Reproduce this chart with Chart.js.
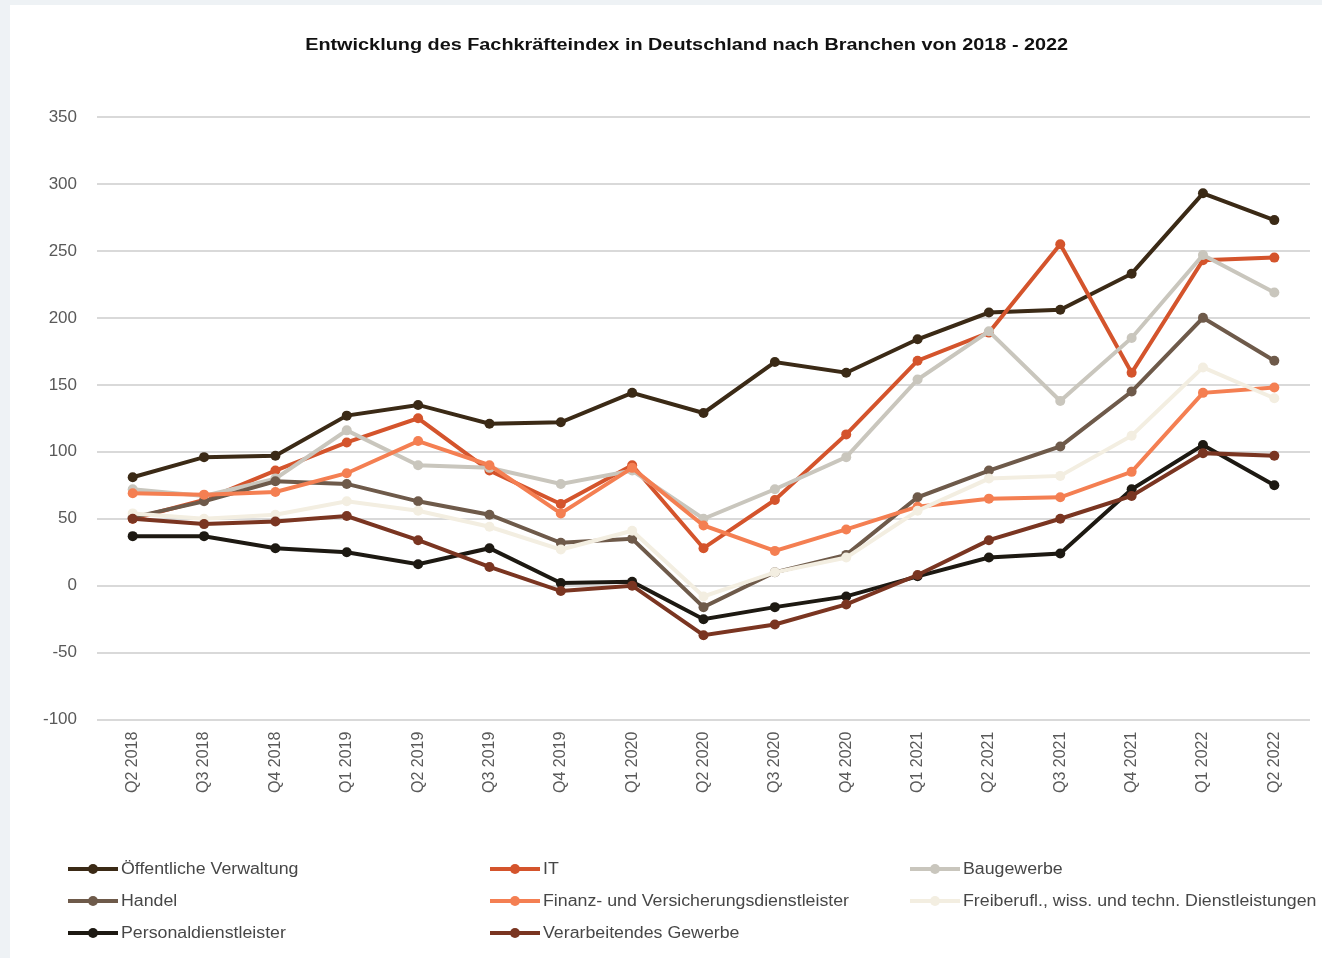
<!DOCTYPE html>
<html lang="de">
<head>
<meta charset="utf-8">
<title>Fachkräfteindex nach Branchen</title>
<script src="https://cdn.jsdelivr.net/npm/chart.js@4.4.1/dist/chart.umd.min.js"></script>
<style>
  html, body { margin: 0; padding: 0; background: #eef2f5; }
  body { width: 1322px; height: 958px; position: relative; overflow: hidden; }
  #card { position: absolute; left: 10px; top: 5px; width: 1312px; height: 953px; background: #ffffff; }
  #chart { position: absolute; left: 0; top: 0; width: 1312px; height: 953px; }
  #title { position: absolute; left: 0; top: 30px; width: 1353px; height: 20px; text-align: center;
           font-family: "Liberation Sans", Arial, sans-serif; font-size: 16px; font-weight: bold;
           color: #111111; line-height: 20px; white-space: nowrap; }
  #title span { display: inline-block; transform: scaleX(1.24); transform-origin: center; }
  #legend { position: absolute; left: 0; top: 0; width: 1312px; height: 953px; pointer-events: none;
            font-family: "Liberation Sans", Arial, sans-serif; font-size: 16px; color: #474747; }
  .item { position: absolute; height: 20px; display: flex; align-items: center; white-space: nowrap; }
  .item span { display: inline-block; transform: scaleX(1.11); transform-origin: left center; }
  .swatch { position: relative; width: 50px; height: 20px; margin-right: 3px; }
  .swatch .ln { position: absolute; left: 0; right: 0; top: 8px; height: 4px; }
  .swatch .pt { position: absolute; left: 20px; top: 5px; width: 10px; height: 10px; border-radius: 50%; }
</style>
</head>
<body>
<div id="card">
  <canvas id="chart" width="1312" height="953"></canvas>
  <div id="title"><span>Entwicklung des Fachkräfteindex in Deutschland nach Branchen von 2018 - 2022</span></div>
  <div id="legend"></div>
</div>
<script>
// Quarters on the category axis
const quarters = ["Q2 2018", "Q3 2018", "Q4 2018", "Q1 2019", "Q2 2019", "Q3 2019", "Q4 2019",
                  "Q1 2020", "Q2 2020", "Q3 2020", "Q4 2020", "Q1 2021", "Q2 2021", "Q3 2021",
                  "Q4 2021", "Q1 2022", "Q2 2022"];

// Fachkräfteindex per sector
const oeffentlicheVerwaltung = [81, 96, 97, 127, 135, 121, 122, 144, 129, 167, 159, 184, 204, 206, 233, 293, 273];
const it                     = [50, 64, 86, 107, 125, 86, 61, 90, 28, 64, 113, 168, 189, 255, 159, 243, 245];
const baugewerbe             = [72, 67, 80, 116, 90, 88, 76, 86, 50, 72, 96, 154, 190, 138, 185, 247, 219];
const handel                 = [51, 63, 78, 76, 63, 53, 32, 35, -16, 10, 23, 66, 86, 104, 145, 200, 168];
const finanz                 = [69, 68, 70, 84, 108, 90, 54, 88, 45, 26, 42, 59, 65, 66, 85, 144, 148];
const freiberufl             = [54, 50, 53, 63, 56, 44, 27, 41, -8, 10, 21, 56, 80, 82, 112, 163, 140];
const personaldienstleister  = [37, 37, 28, 25, 16, 28, 2, 3, -25, -16, -8, 7, 21, 24, 72, 105, 75];
const verarbeitendesGewerbe  = [50, 46, 48, 52, 34, 14, -4, 0, -37, -29, -14, 8, 34, 50, 67, 99, 97];

// Y axis range and tick step
const yMin = -100;
const yMax = 350;
const yStep = 50;

const seriesNames = ["Öffentliche Verwaltung", "IT", "Baugewerbe", "Handel",
                     "Finanz- und Versicherungsdienstleister",
                     "Freiberufl., wiss. und techn. Dienstleistungen",
                     "Personaldienstleister", "Verarbeitendes Gewerbe"];
const seriesValues = [oeffentlicheVerwaltung, it, baugewerbe, handel, finanz, freiberufl,
                      personaldienstleister, verarbeitendesGewerbe];
const seriesColors = ["#3b2a16", "#d4542c", "#c9c6bd", "#6e5a4a", "#f47f52", "#f3eee1", "#1d1912", "#7a3521"];

const FONT = '"Liberation Sans", Arial, sans-serif';

const datasets = seriesNames.map((name, i) => ({
  label: name,
  data: seriesValues[i],
  borderColor: seriesColors[i],
  backgroundColor: seriesColors[i],
  borderWidth: 4,
  pointRadius: 5,
  pointHoverRadius: 5,
  pointBorderWidth: 0,
  pointBackgroundColor: seriesColors[i],
  tension: 0,
  // later series are painted over earlier ones
  order: seriesNames.length - i
}));

const chart = new Chart(document.getElementById("chart"), {
  type: "line",
  data: { labels: quarters, datasets },
  options: {
    responsive: false,
    animation: false,
    layout: { padding: { left: 13, right: 12, top: 112, bottom: 161 } },
    plugins: {
      legend: { display: false },
      tooltip: { enabled: false },
      title: { display: false }
    },
    scales: {
      x: {
        offset: true,
        grid: { display: false },
        border: { display: false },
        ticks: {
          color: "#595959",
          font: { family: FONT, size: 16 },
          minRotation: 90,
          maxRotation: 90,
          padding: 4,
          autoSkip: false
        }
      },
      y: {
        min: yMin,
        max: yMax,
        grid: { color: "#d9d9d9", lineWidth: 2, drawTicks: false },
        border: { display: false },
        ticks: {
          stepSize: yStep,
          color: "#595959",
          font: { family: FONT, size: 17 },
          padding: 20
        }
      }
    }
  }
});

// Legend in three columns below the plot
const legendEl = document.getElementById("legend");
const colX = [58, 480, 900];
const rowY = [854, 886, 918];
chart.data.datasets.forEach((ds, i) => {
  const item = document.createElement("div");
  item.className = "item";
  item.style.left = colX[i % 3] + "px";
  item.style.top = rowY[Math.floor(i / 3)] + "px";
  const sw = document.createElement("div");
  sw.className = "swatch";
  const ln = document.createElement("div");
  ln.className = "ln";
  ln.style.background = ds.borderColor;
  const pt = document.createElement("div");
  pt.className = "pt";
  pt.style.background = ds.borderColor;
  sw.appendChild(ln);
  sw.appendChild(pt);
  const tx = document.createElement("span");
  tx.textContent = ds.label;
  item.appendChild(sw);
  item.appendChild(tx);
  legendEl.appendChild(item);
});
</script>
</body>
</html>
